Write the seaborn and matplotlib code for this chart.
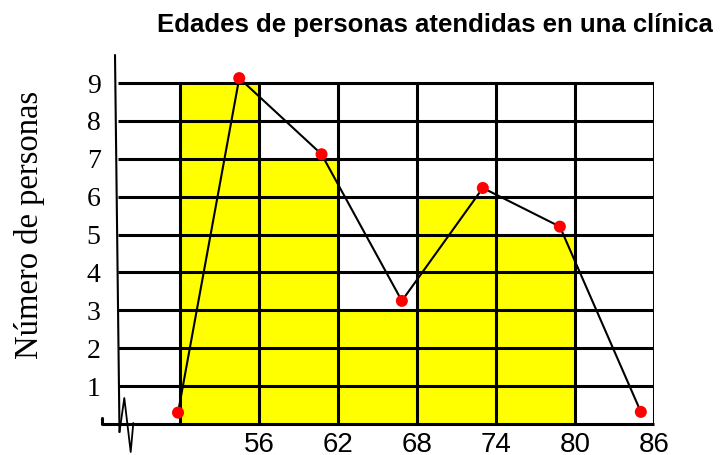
import matplotlib
matplotlib.use("Agg")
import matplotlib.pyplot as plt
import numpy as np
import seaborn as sns

# Data
bin_edges = [50, 56, 62, 68, 74, 80]
frequencies = [9, 7, 3, 6, 5]
polygon_x = [49.85, 54.5, 60.75, 66.85, 73.0, 78.85, 85.0]
polygon_y = [0.30, 9.13, 7.12, 3.25, 6.23, 5.21, 0.32]
x_ticks = [56, 62, 68, 74, 80, 86]
y_ticks = [1, 2, 3, 4, 5, 6, 7, 8, 9]

title = "Edades de personas atendidas en una clínica"
ylabel = "Número de personas"

sns.set_style("white")
plt.rcParams["font.family"] = ["Liberation Sans", "DejaVu Sans"]
plt.rcParams["text.color"] = "black"
plt.rcParams["xtick.color"] = "black"
plt.rcParams["ytick.color"] = "black"

fig = plt.figure(figsize=(7.21, 4.55), dpi=100)
ax = fig.add_axes([102 / 721, 31 / 455, 552 / 721, 369 / 455])

# Histogram bars
mids = [(a + b) / 2 for a, b in zip(bin_edges[:-1], bin_edges[1:])]
sns.histplot(
    x=mids,
    weights=frequencies,
    bins=bin_edges,
    color="#FFFF00",
    alpha=1,
    linewidth=0,
    ax=ax,
    zorder=1,
)

# Grid
grid_left = 45.3
for y in y_ticks:
    ax.plot([grid_left, 86], [y, y], color="black", lw=2.2, zorder=2,
            solid_capstyle="butt")
for x in [50] + x_ticks:
    ax.plot([x, x], [0, 9], color="black", lw=2.2, zorder=2,
            solid_capstyle="butt")
ax.plot([44.08, 86], [0, 0], color="black", lw=2.2, zorder=2,
        solid_capstyle="butt", clip_on=False)
ax.plot([44.08, 44.08], [0, 0.16], color="black", lw=2.2, zorder=2,
        clip_on=False)

# Frequency polygon
sns.lineplot(x=polygon_x, y=polygon_y, color="black", lw=1.5, ax=ax,
             zorder=3, sort=False)
sns.scatterplot(x=polygon_x, y=polygon_y, color="#FF0000", s=75,
                edgecolor="none", ax=ax, zorder=4, clip_on=False)

# Hand-drawn style y axis with break mark
ax.plot([(115 - 102) / 552, (119.5 - 102) / 552],
        [1.0, (424 - 432) / 369], color="black", lw=1.5,
        transform=ax.transAxes, clip_on=False)
zig_x = np.array([119.5, 124.3, 130.7, 133.3])
zig_y = np.array([432, 398, 452, 423])
ax.plot((zig_x - 102) / 552, (424 - zig_y) / 369, color="black", lw=1.3,
        transform=ax.transAxes, clip_on=False)

ax.set_xlim(44.076, 86)
ax.set_ylim(0, 9.74)
for s in ax.spines.values():
    s.set_visible(False)

ax.set_xticks(x_ticks)
ax.set_xticklabels([str(t) for t in x_ticks], fontsize=20,
                   family=["Liberation Sans", "DejaVu Sans"])
ax.set_yticks(y_ticks)
ax.set_yticklabels([str(t) for t in y_ticks], fontsize=20,
                   family=["Liberation Serif", "DejaVu Serif"])
ax.tick_params(axis="x", length=0, pad=6)
ax.tick_params(axis="y", length=0, pad=1)
ax.set_xlabel("")
ax.set_ylabel("")

fig.text(30 / 721, 1 - 225 / 455, ylabel, rotation=90, ha="center",
         va="center", fontsize=23.5, color="black",
         family=["Liberation Serif", "DejaVu Serif"])
fig.text(435 / 721, 1 - 25 / 455, title, ha="center", va="center",
         fontsize=18.5, fontweight="bold", color="black",
         family=["Liberation Sans", "DejaVu Sans"])

fig.savefig("out.png", dpi=100)
